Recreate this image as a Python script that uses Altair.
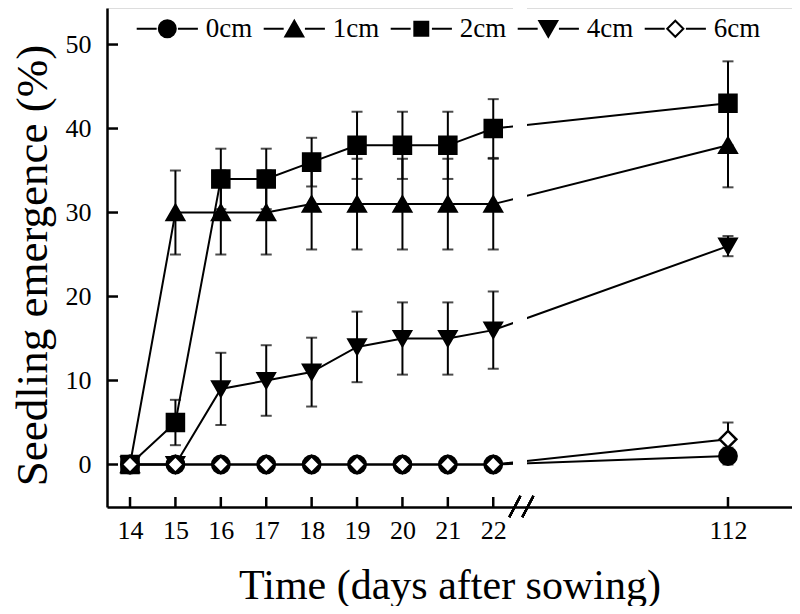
import altair as alt
import pandas as pd

# ---------------- data ----------------
days = [14, 15, 16, 17, 18, 19, 20, 21, 22, 112]
series = ["0cm", "1cm", "2cm", "4cm", "6cm"]

mean_0cm = [0, 0, 0, 0, 0, 0, 0, 0, 0, 1]
err_0cm = [0, 0, 0, 0, 0, 0, 0, 0, 0, 1]
mean_1cm = [0, 30, 30, 30, 31, 31, 31, 31, 31, 38]
err_1cm = [0, 5, 5, 5, 5.4, 5.4, 5.4, 5.4, 5.4, 5]
mean_2cm = [0, 5, 34, 34, 36, 38, 38, 38, 40, 43]
err_2cm = [0, 2.7, 3.6, 3.6, 2.9, 4, 4, 4, 3.5, 5]
mean_4cm = [0, 0, 9, 10, 11, 14, 15, 15, 16, 26]
err_4cm = [0, 0, 4.3, 4.2, 4.1, 4.2, 4.3, 4.3, 4.6, 1.2]
mean_6cm = [0, 0, 0, 0, 0, 0, 0, 0, 0, 3]
err_6cm = [0, 0, 0, 0, 0, 0, 0, 0, 0, 2]

y_ticks = [0, 10, 20, 30, 40, 50]

# ---------------- layout / style ----------------
W, H = 685, 499
FONT = "Liberation Serif"
LAST_REGULAR = 22          # last day before the axis break
GAP_AFTER_BREAK = 5.17     # compressed distance from day 22 to day 112
BREAK_POS = 22.62
X_DOMAIN = [13.493, 28.58]
Y_DOMAIN = [-5.06, 54.35]


def xpos(d):
    return d if d <= LAST_REGULAR else LAST_REGULAR + GAP_AFTER_BREAK


rows = []
for s, m, e in zip(series,
                   [mean_0cm, mean_1cm, mean_2cm, mean_4cm, mean_6cm],
                   [err_0cm, err_1cm, err_2cm, err_4cm, err_6cm]):
    for d, v, er in zip(days, m, e):
        rows.append(dict(series=s, day=d, xpos=xpos(d), value=v, err=er,
                         lo=v - er, hi=v + er, order=series.index(s)))
df = pd.DataFrame(rows)

tick_df = pd.DataFrame({"xpos": [xpos(d) for d in days]})
ytick_df = pd.DataFrame({"value": y_ticks})

x_axis = alt.Axis(
    values=[xpos(d) for d in days],
    labelExpr=f"datum.value > {LAST_REGULAR + 0.5} ? '{days[-1]}' : format(datum.value, 'd')",
    ticks=False, grid=False, domainColor="black", domainWidth=2.5,
    labelFont=FONT, labelFontSize=26, labelColor="black", labelPadding=10,
    title="Time (days after sowing)", titleFont=FONT, titleFontSize=42,
    titleFontWeight="normal", titleColor="black", titleBaseline="alphabetic",
    titleY=91,
)
y_axis = alt.Axis(
    values=y_ticks, ticks=False, grid=False, domainColor="black", domainWidth=2.5,
    labelFont=FONT, labelFontSize=26, labelColor="black", labelPadding=16,
    title="Seedling emergence (%)", titleFont=FONT, titleFontSize=45,
    titleFontWeight="normal", titleColor="black", titleBaseline="alphabetic",
    titleAngle=270, titleAlign="center", titleX=-61, titleY=257,
)

xs = alt.Scale(domain=X_DOMAIN, nice=False, zero=False)
ys = alt.Scale(domain=Y_DOMAIN, nice=False, zero=False)


def X(field):
    return alt.X(f"{field}:Q", scale=xs, axis=x_axis)


def Y(field):
    return alt.Y(f"{field}:Q", scale=ys, axis=y_axis)


base = alt.Chart(df)

lines = base.mark_line(color="black", strokeWidth=2).encode(
    x=X("xpos"), y=Y("value"), detail="series:N", order="day:Q"
)

gap = alt.Chart(df).mark_rect(color="white").encode(
    x=alt.datum(22.44), x2=alt.datum(22.74),
    y=alt.value(0), y2=alt.value(H - 14),
)

err_df = base.transform_filter("datum.err > 0")
bars = err_df.mark_rule(color="black", strokeWidth=2).encode(
    x=X("xpos"), y=Y("lo"), y2="hi:Q"
)
caps_lo = err_df.mark_tick(color="black", orient="horizontal", size=11, thickness=2).encode(
    x=X("xpos"), y=Y("lo")
)
caps_hi = err_df.mark_tick(color="black", orient="horizontal", size=11, thickness=2).encode(
    x=X("xpos"), y=Y("hi")
)

points = base.mark_point(filled=True, opacity=1, stroke="black", strokeWidth=2.5).encode(
    x=X("xpos"), y=Y("value"),
    shape=alt.Shape("series:N", scale=alt.Scale(
        domain=series, range=["circle", "triangle-up", "square", "triangle-down", "diamond"]),
        legend=None),
    fill=alt.Fill("series:N", scale=alt.Scale(
        domain=series, range=["black", "black", "black", "black", "white"]), legend=None),
    size=alt.Size("series:N", scale=alt.Scale(domain=series, range=[300, 280, 160, 280, 280]),
                  legend=None),
    order="order:Q",
)

dash = "M-3.6,0H-1.25M1.25,0H3.6"
legend_paths = [
    dash + "M1,0A1,1 0 1,1 -1,0A1,1 0 1,1 1,0Z",
    dash + "M0,-0.95L1.06,0.9L-1.06,0.9Z",
    dash + "M-0.82,-0.82H0.82V0.82H-0.82Z",
    dash + "M0,0.95L1.06,-0.9L-1.06,-0.9Z",
    dash + "M0,-0.95L0.95,0L0,0.95L-0.95,0Z",
]
leg = alt.Legend(
    title=None, orient="none", legendX=24.7, legendY=7, direction="horizontal",
    columns=5, columnPadding=6, padding=0, symbolSize=289, symbolStrokeWidth=2,
    symbolOffset=22.1, labelOffset=25, labelFont=FONT, labelFontSize=27,
    labelColor="black", labelBaseline="middle",
)
legend_layer = base.transform_filter("false").mark_point(
    filled=True, opacity=1, size=289, stroke="black", strokeWidth=2
).encode(
    x=X("xpos"), y=Y("value"),
    shape=alt.Shape("series:N", scale=alt.Scale(domain=series, range=legend_paths), legend=leg),
    fill=alt.Fill("series:N", scale=alt.Scale(
        domain=series, range=["black", "black", "black", "black", "white"]), legend=leg),
)

xticks = alt.Chart(tick_df).mark_rule(color="black", strokeWidth=2.5).encode(
    x=X("xpos"), y=alt.value(H), y2=alt.value(H - 10)
)
yticks = alt.Chart(ytick_df).mark_rule(color="black", strokeWidth=2.5).encode(
    y=Y("value"), x=alt.value(0), x2=alt.value(11)
)

brk1 = alt.Chart(tick_df).mark_rule(color="black", strokeWidth=2, xOffset=-12, x2Offset=-1).encode(
    x=alt.datum(BREAK_POS), x2=alt.datum(BREAK_POS), y=alt.value(H + 10), y2=alt.value(H - 11)
)
brk2 = alt.Chart(tick_df).mark_rule(color="black", strokeWidth=2, xOffset=1, x2Offset=12).encode(
    x=alt.datum(BREAK_POS), x2=alt.datum(BREAK_POS), y=alt.value(H + 10), y2=alt.value(H - 11)
)

chart = alt.layer(
    lines, gap, bars, caps_lo, caps_hi, points, legend_layer, xticks, yticks, brk1, brk2
).resolve_scale(
    shape="independent", fill="independent", size="independent"
).properties(
    width=W, height=H,
    autosize=alt.AutoSizeParams(type="none"),
    padding={"left": 99, "top": 0, "right": 0, "bottom": 99},
).configure_view(stroke=None).configure(background="white")

chart.save("out.html", embed_options={"renderer": "svg", "actions": False})
